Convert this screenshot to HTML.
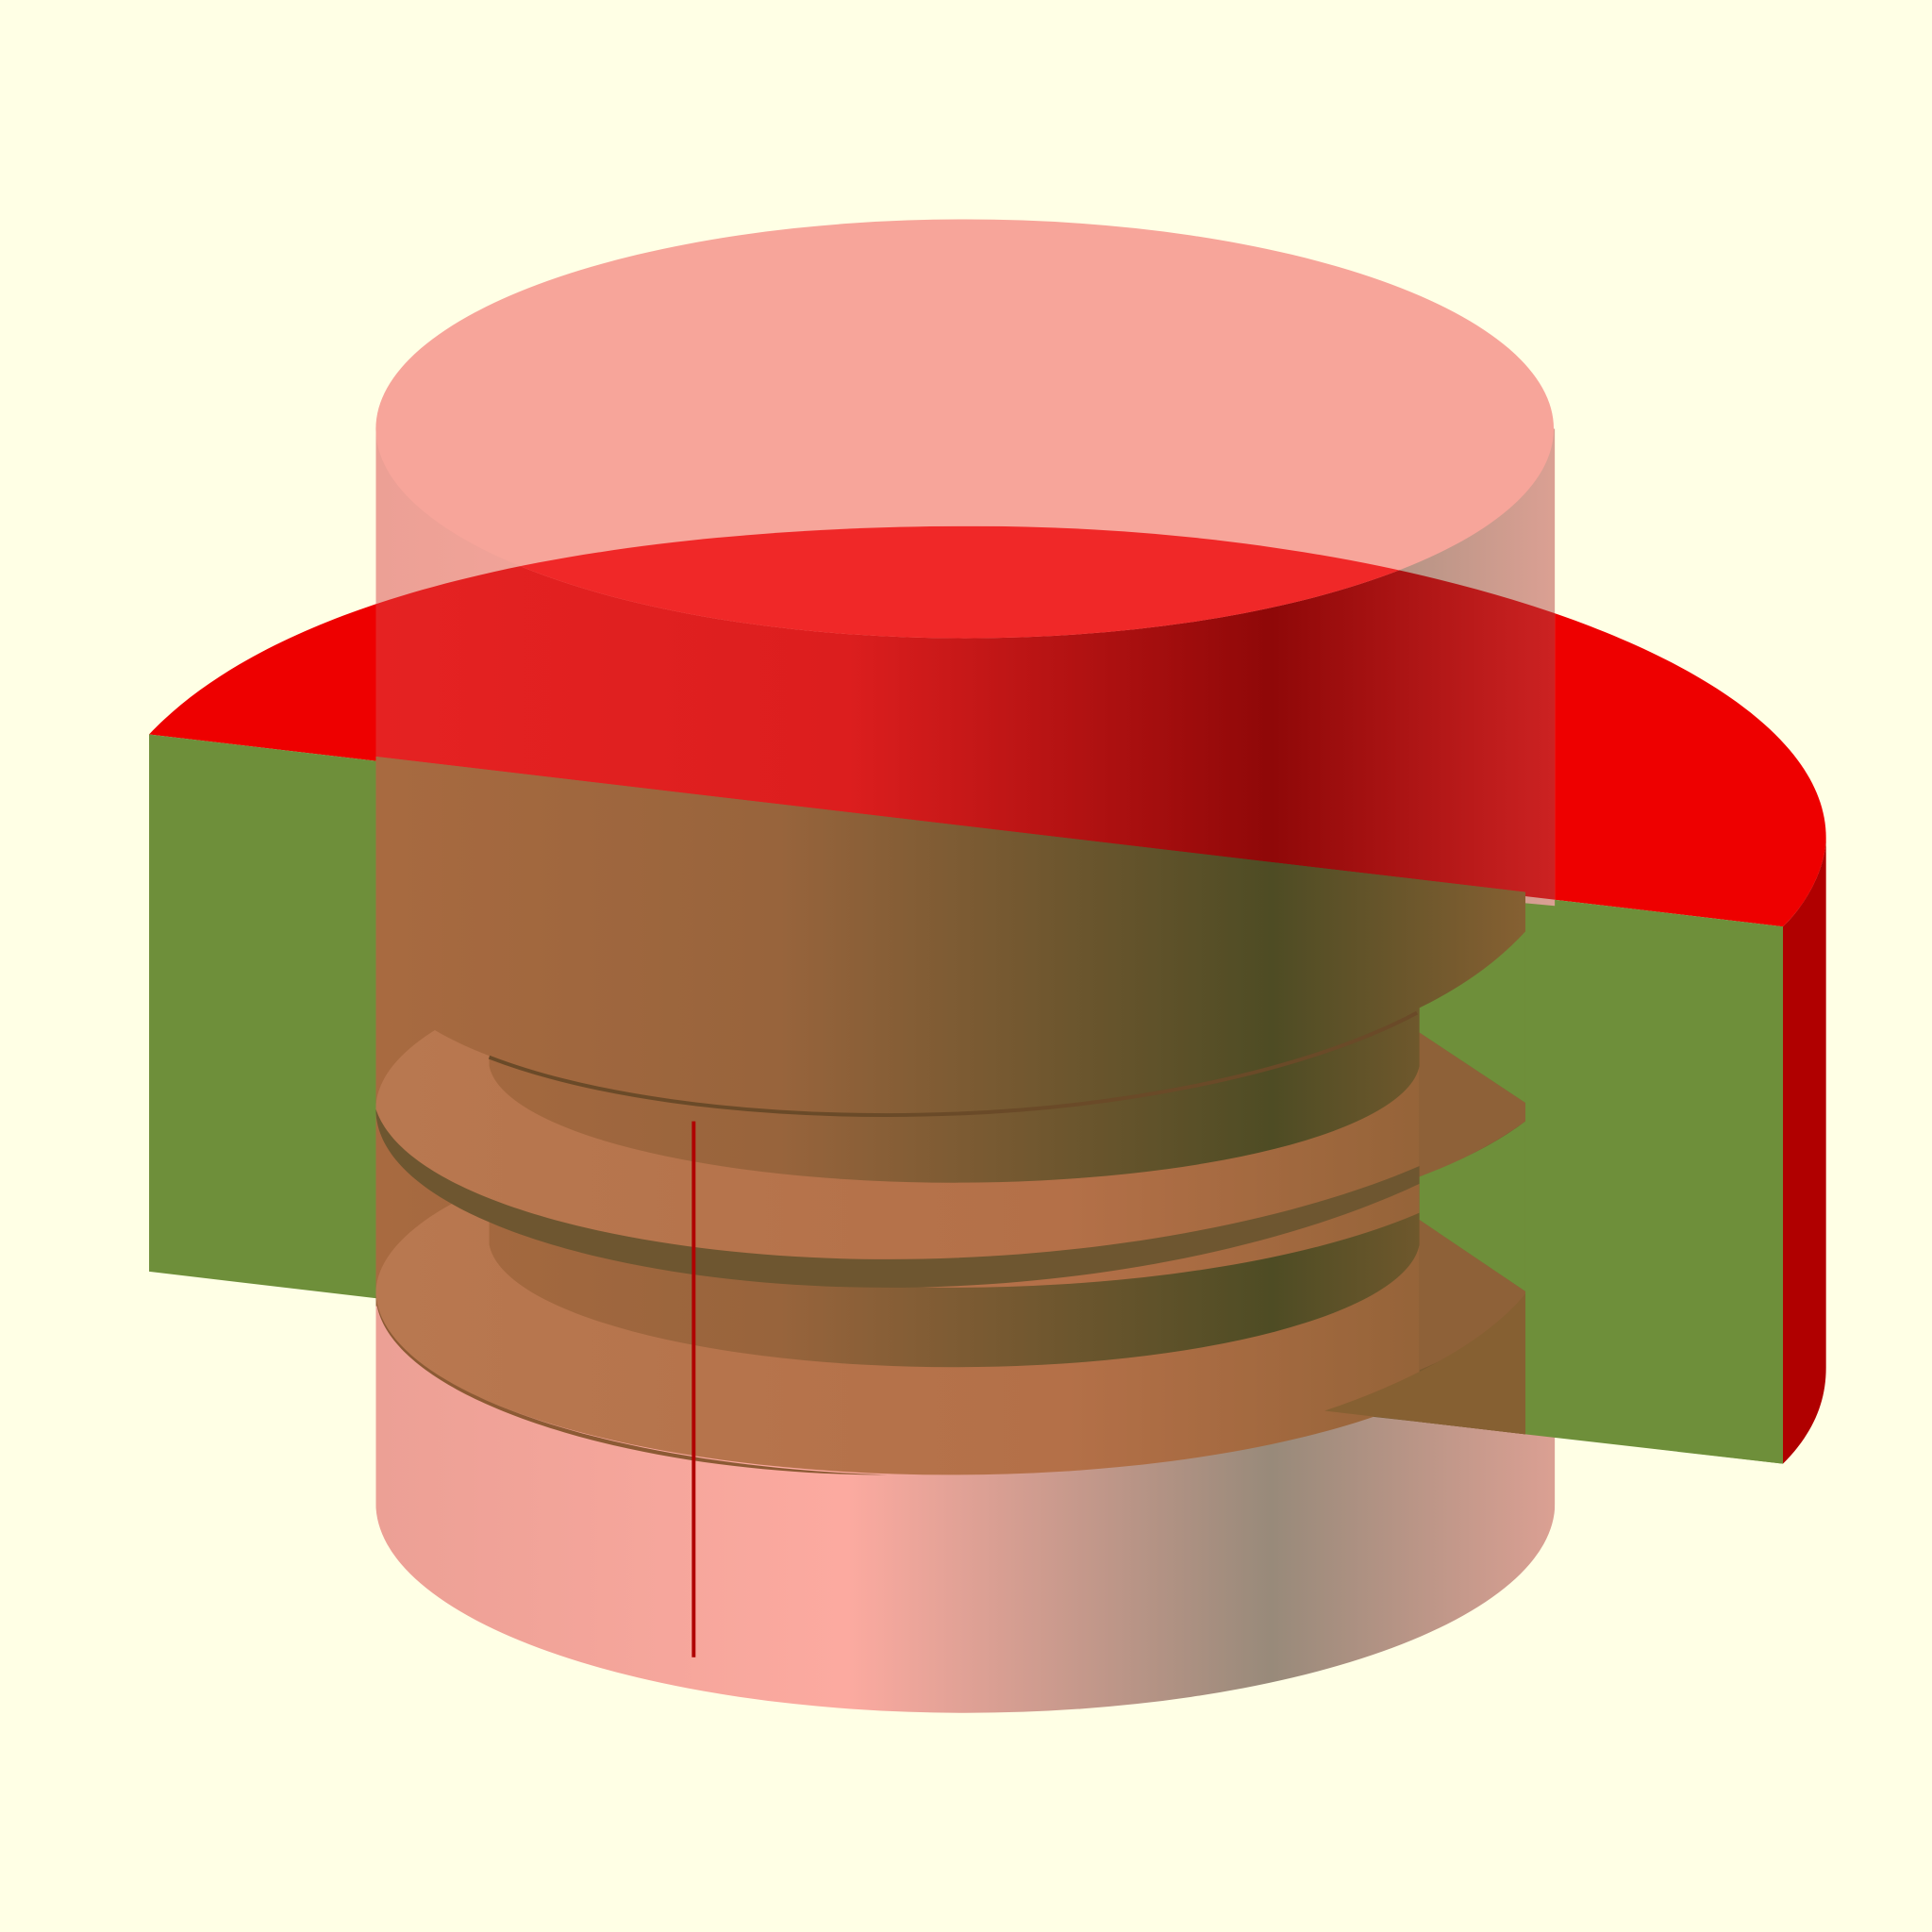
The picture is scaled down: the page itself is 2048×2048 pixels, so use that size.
<!DOCTYPE html>
<html><head><meta charset="utf-8"><style>
html,body{margin:0;padding:0;background:#ffffe5;width:2048px;height:2048px;overflow:hidden}
svg{display:block}
</style></head><body>
<svg width="2048" height="2048" viewBox="0 0 1568 1568" xmlns="http://www.w3.org/2000/svg">
<defs>
<linearGradient id="pinkG" x1="305" x2="1262" y1="0" y2="0" gradientUnits="userSpaceOnUse">
<stop offset="0" stop-color="#eca095"/><stop offset="0.4" stop-color="#fcaaa0"/><stop offset="0.76" stop-color="#988a7a"/><stop offset="1" stop-color="#dba093"/></linearGradient>
<linearGradient id="redG" x1="305" x2="1262" y1="0" y2="0" gradientUnits="userSpaceOnUse">
<stop offset="0" stop-color="#e52222"/><stop offset="0.4" stop-color="#dc1e1e"/><stop offset="0.76" stop-color="#8f0808"/><stop offset="1" stop-color="#cc2222"/></linearGradient>
<linearGradient id="brownG" x1="305" x2="1238" y1="0" y2="0" gradientUnits="userSpaceOnUse">
<stop offset="0" stop-color="#a86a40"/><stop offset="0.35" stop-color="#98643c"/><stop offset="0.78" stop-color="#4e4c24"/><stop offset="1" stop-color="#866032"/></linearGradient>
<linearGradient id="threadG" x1="305" x2="1238" y1="0" y2="0" gradientUnits="userSpaceOnUse">
<stop offset="0" stop-color="#b87850"/><stop offset="0.6" stop-color="#b47048"/><stop offset="1" stop-color="#8c6034"/></linearGradient>
<clipPath id="cylClip"><path d="M305,348 L1262,348 L1262,1220 A478,170 0 0 1 305,1220 Z"/></clipPath>
<clipPath id="aboveCut"><path d="M121,596 C250,460 560,427 790,427 C1150,427 1482,540 1482,680 C1482,700 1470,730 1447,752 Z"/></clipPath>
<clipPath id="coreClip"><path d="M305,614 L1238,724 L1238,1250 L305,1250 Z"/></clipPath>
</defs>
<rect width="1568" height="1568" fill="#ffffe5"/>
<path d="M121,596 C250,460 560,427 790,427 C1150,427 1482,540 1482,680 C1482,700 1470,730 1447,752 Z" fill="#ee0000"/>
<path d="M1447,752 C1470,730 1482,700 1482,680 L1482,1110 C1482,1140 1470,1165 1447,1188 Z" fill="#b00000"/>
<polygon points="121,596 1447,752 1447,1188 121,1032" fill="#6e8f3a"/>
<g clip-path="url(#cylClip)">
<rect x="305" y="348" width="957" height="1050" fill="url(#pinkG)"/>
<rect x="305" y="348" width="957" height="500" fill="url(#redG)" clip-path="url(#aboveCut)"/>
</g>
<g clip-path="url(#coreClip)">
<path d="M305,600 L1238,600 L1238,1164 L1152,1154 L305,1060 Z" fill="url(#brownG)"/>
<ellipse cx="772" cy="1050" rx="467" ry="147" fill="url(#threadG)"/>
<path d="M305,1050 C305,1130 500,1197 720,1197 C500,1190 310,1130 305,1050 Z" fill="#8c5a34"/>
<path d="M397,870 L1152,870 L1152,1010 A378,105 0 0 1 397,1010 Z" fill="url(#brownG)"/>
<ellipse cx="772" cy="900" rx="467" ry="145" fill="url(#threadG)"/>
<path d="M305,900 C305,985 500,1045 720,1045 C950,1045 1160,980 1238,905 L1238,895 C1160,965 950,1022 720,1022 C520,1022 330,975 305,900 Z" fill="#6e5630"/>
<path d="M397,700 L1152,700 L1152,865 A378,100 0 0 1 397,865 Z" fill="url(#brownG)"/>
<path d="M305,600 L1238,600 L1238,760 C1160,845 950,905 720,905 C500,905 305,850 305,775 Z" fill="url(#brownG)"/>
<path d="M397,858 C480,890 600,905 720,905 C900,905 1060,870 1150,822" stroke="#6a4a28" stroke-width="3" fill="none"/>
</g>
<path d="M1152,820 C1190,800 1220,780 1238,760 L1238,1164 L1152,1154 Z" fill="#7a5a30"/>
<path d="M1152,838 L1238,895 L1238,910 C1210,930 1180,945 1152,955 Z" fill="#8e6138"/>
<path d="M1152,990 L1238,1048 L1238,1060 C1210,1085 1180,1100 1152,1112 Z" fill="#8e6138"/>
<path d="M1152,818 Q1205,792 1238,756 L1238,895 L1152,838 Z" fill="#6e8f3a"/>
<path d="M1152,955 Q1205,935 1238,910 L1238,1048 L1152,990 Z" fill="#6e8f3a"/>
<polygon points="1238,733 1447,752 1447,1188 1238,1164" fill="#6e8f3a"/>
<path d="M1238,1050 L1238,1164 L1075,1145 C1150,1120 1210,1085 1238,1050 Z" fill="#866032"/>
<ellipse cx="783" cy="348" rx="478" ry="170" fill="#f7a59a"/>
<ellipse cx="783" cy="348" rx="478" ry="170" fill="#f02828" clip-path="url(#aboveCut)"/>
<line x1="563" y1="910" x2="563" y2="1345" stroke="#b00000" stroke-width="3"/>
</svg>
</body></html>
